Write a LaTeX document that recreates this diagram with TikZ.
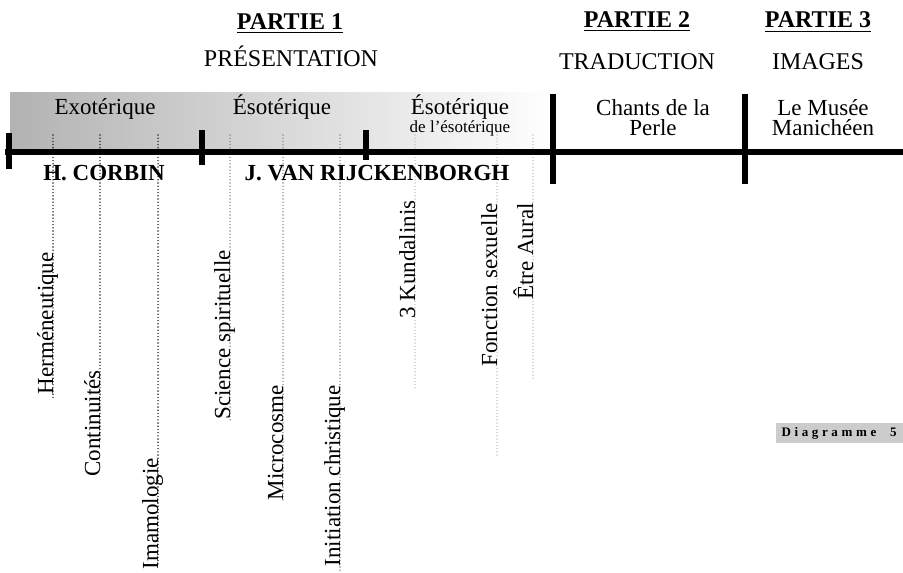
\documentclass[tikz,border=0pt]{standalone}
\usepackage{fontspec}
\setmainfont{Liberation Serif}

\begin{document}
\begin{tikzpicture}[x=0.5pt,y=-0.5pt,line join=bevel,
  hdr/.style={inner sep=0pt,anchor=base,font=\fontsize{12}{13}\selectfont},
  lbl/.style={inner sep=0pt,anchor=base,font=\fontsize{11.5}{10}\selectfont},
  term/.style={inner sep=0pt,rotate=90,anchor=base east,font=\fontsize{11.5}{12}\selectfont},
  leader/.style={line width=0.8pt,line cap=round,dash pattern=on 0pt off 1.6pt},
  bar/.style={line width=2.6pt},
]
\useasboundingbox (0,0) rectangle (903,572);
%%
\shade [left color=black!30,right color=white] (10,93) rectangle (555,152);
%% headings
\node (part_1) at (290,30) [hdr] {\textbf{\underline{PARTIE 1}}};
  \node (pres) at (291,67) [hdr] {PRÉSENTATION};
  \node (part_2) at (637,28) [hdr] {\textbf{\underline{PARTIE 2}}};
  \node (trad) at (637,70) [hdr] {TRADUCTION};
  \node (part_3) at (818,28) [hdr] {\textbf{\underline{PARTIE 3}}};
  \node (img) at (818,70) [hdr] {IMAGES};
%% leaders
\coordinate (top_1) at (53,135);  \coordinate (end_1) at (53,400);
  \coordinate (top_2) at (100,135); \coordinate (end_2) at (100,440);
  \coordinate (top_3) at (158,135); \coordinate (end_3) at (158,566);
  \coordinate (top_4) at (230,135); \coordinate (end_4) at (230,420);
  \coordinate (top_5) at (283,135); \coordinate (end_5) at (283,500);
  \coordinate (top_6) at (340,135); \coordinate (end_6) at (340,572);
  \coordinate (top_7) at (415,135); \coordinate (end_7) at (415,390);
  \coordinate (top_8) at (497,135); \coordinate (end_8) at (497,457);
  \coordinate (top_9) at (533,135); \coordinate (end_9) at (533,380);
  \draw [leader,black!85] (top_1) -- (end_1);
  \draw [leader,black!85] (top_2) -- (end_2);
  \draw [leader,black!85] (top_3) -- (end_3);
  \draw [leader,black!45] (top_4) -- (end_4);
  \draw [leader,black!45] (top_5) -- (end_5);
  \draw [leader,black!45] (top_6) -- (end_6);
  \draw [leader,black!22] (top_7) -- (end_7);
  \draw [leader,black!22] (top_8) -- (end_8);
  \draw [leader,black!22] (top_9) -- (end_9);
%% axis
\coordinate (axis_w) at (5,152); \coordinate (axis_e) at (903,152);
  \draw [bar] (axis_w) -- (axis_e);
  \coordinate (t1a) at (9,133);   \coordinate (t1b) at (9,169);
  \coordinate (t2a) at (202,130); \coordinate (t2b) at (202,165);
  \coordinate (t3a) at (366,130); \coordinate (t3b) at (366,160);
  \coordinate (t4a) at (553,94);  \coordinate (t4b) at (553,184);
  \coordinate (t5a) at (745,94);  \coordinate (t5b) at (745,184);
  \draw [bar] (t1a) -- (t1b);
  \draw [bar] (t2a) -- (t2b);
  \draw [bar] (t3a) -- (t3b);
  \draw [bar] (t4a) -- (t4b);
  \draw [bar] (t5a) -- (t5b);
%% band labels
\node (exo) at (105,115) [lbl] {Exotérique};
  \node (eso) at (282,115) [lbl] {Ésotérique};
  \node (eso_eso) at (460,115) [lbl] {Ésotérique};
  \node (de_eso) at (460,133) [lbl,font=\fontsize{8.5}{9}\selectfont] {de l’ésotérique};
  \node (chants) at (653,99) [lbl,anchor=north,align=center] {Chants de la\\Perle};
  \node (musee) at (823,99) [lbl,anchor=north,align=center] {Le Musée\\Manichéen};
  \node (corbin) at (104,181) [lbl,font=\bfseries\fontsize{11.5}{12}\selectfont] {H. CORBIN};
  \node (rijck) at (377,181) [lbl,font=\bfseries\fontsize{11.5}{12}\selectfont] {J. VAN RIJCKENBORGH};
%% terms
\node (herm) at (53,252) [term] {Herméneutique};
  \node (cont) at (100,370) [term] {Continuités};
  \node (imam) at (158,458) [term] {Imamologie};
  \node (sci) at (230,250) [term] {Science spirituelle};
  \node (micro) at (283,385) [term] {Microcosme};
  \node (init) at (340,385) [term] {Initiation christique};
  \node (kund) at (415,200) [term] {3 Kundalinis};
  \node (fonc) at (497,203) [term] {Fonction sexuelle};
  \node (aural) at (533,203) [term] {Être Aural};
%%
\node (diag) at (903,433) [anchor=east,fill=black!20,inner xsep=3pt,inner ysep=2.2pt,
    font=\bfseries\fontsize{6.5}{8}\selectfont\addfontfeatures{LetterSpace=28}] {Diagramme\ \ 5};
%
\end{tikzpicture}
\end{document}
